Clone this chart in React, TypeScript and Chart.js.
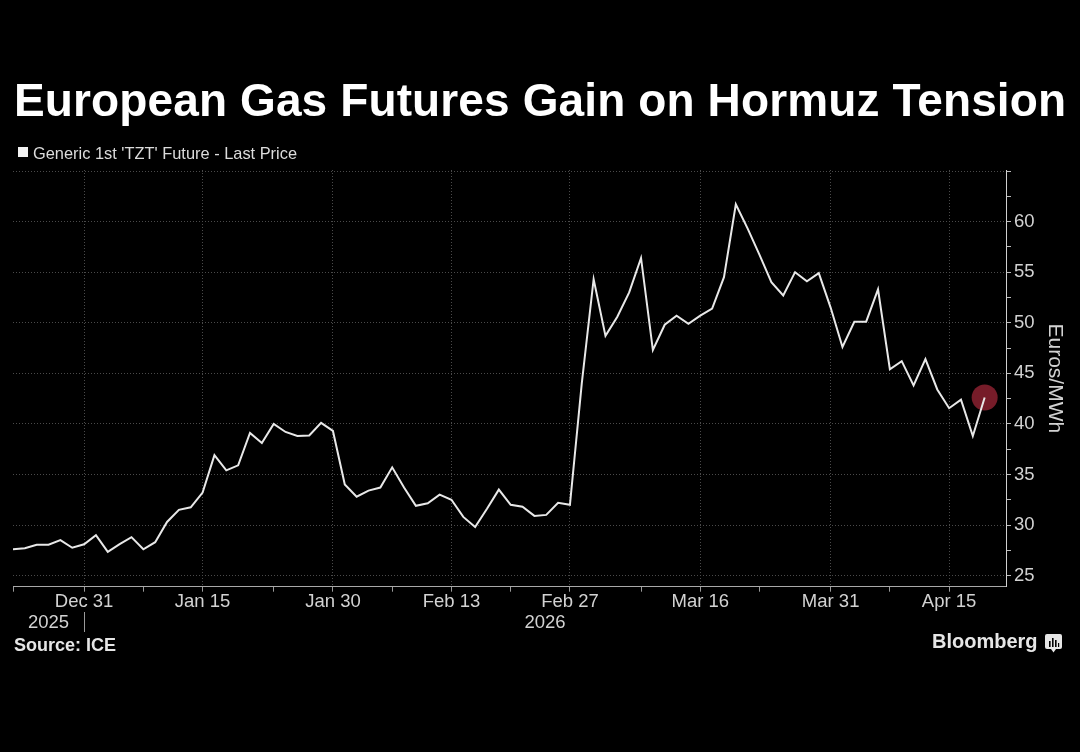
import React, { useEffect, useRef } from 'react';
import { Chart, registerables } from 'chart.js';

Chart.register(...registerables);

// Generic 1st 'TZT' Future - Last Price (EUR/MWh), one value per trading day
const prices = [
  27.6, 27.7, 28.05, 28.05, 28.5, 27.75, 28.1, 29.0, 27.35, 28.1,
  28.8, 27.6, 28.3, 30.3, 31.5, 31.75, 33.2, 36.9, 35.4, 35.9,
  39.1, 38.1, 40.0, 39.2, 38.8, 38.85, 40.1, 39.3, 34.0, 32.8,
  33.4, 33.7, 35.7, 33.7, 31.9, 32.15, 33.0, 32.5, 30.8, 29.8,
  31.6, 33.5, 32.0, 31.8, 30.9, 31.0, 32.2, 32.0, 44.0, 54.3,
  48.7, 50.6, 53.0, 56.4, 47.3, 49.8, 50.7, 49.9, 50.7, 51.4,
  54.5, 61.7, 59.3, 56.7, 54.0, 52.7, 55.0, 54.1, 54.9, 51.5,
  47.6, 50.1, 50.1, 53.3, 45.4, 46.2, 43.8, 46.4, 43.4, 41.55,
  42.4, 38.8, 42.6,
];

// x-axis: trading-day index of labelled ticks
const tickIndex = [6, 16, 27, 37, 47, 58, 69, 79];
const tickLabels = ['Dec 31', 'Jan 15', 'Jan 30', 'Feb 13', 'Feb 27', 'Mar 16', 'Mar 31', 'Apr 15'];
const minorTickIndex = [0, 11, 22, 32, 42, 53, 63, 74];
const yearLabels = ['2025', '2026'];
const yearBoundaryIndex = 6;

// y-axis
const yLabelValues = [25, 30, 35, 40, 45, 50, 55, 60];
const yGridValues = [25, 30, 35, 40, 45, 50, 55, 60, 65];
const yTickValues = [25, 27.5, 30, 32.5, 35, 37.5, 40, 42.5, 45, 47.5, 50, 52.5, 55, 57.5, 60, 62.5, 65];

const FONT = "'Liberation Sans', Arial, sans-serif";
const GRID = '#4a4a4a';
const AXIS_TEXT = '#d2d2d2';

const yearPlugin = {
  id: 'yearLabels',
  afterDraw(chart: any) {
    const { ctx } = chart;
    const xs = chart.scales.x;
    const p0 = xs.getPixelForValue(0);
    const pb = xs.getPixelForValue(yearBoundaryIndex);
    const pe = xs.right;
    ctx.save();
    ctx.fillStyle = AXIS_TEXT;
    ctx.font = `18.5px ${FONT}`;
    ctx.textAlign = 'center';
    ctx.textBaseline = 'alphabetic';
    ctx.fillText(yearLabels[0], (p0 + pb) / 2, 628);
    ctx.fillText(yearLabels[1], (pb + pe) / 2, 628);
    ctx.strokeStyle = '#9a9a9a';
    ctx.lineWidth = 1;
    ctx.beginPath();
    ctx.moveTo(Math.round(pb) + 0.5, 612);
    ctx.lineTo(Math.round(pb) + 0.5, 632);
    ctx.stroke();
    ctx.restore();
  },
};

export default function App() {
  const canvasRef = useRef<HTMLCanvasElement | null>(null);

  useEffect(() => {
    document.body.style.margin = '0';
    document.body.style.background = '#000';
    const canvas = canvasRef.current;
    if (!canvas) return;
    const lastIdx = prices.length - 1;
    const chart = new Chart(canvas, {
      type: 'line',
      data: {
        datasets: [
          {
            label: "Generic 1st 'TZT' Future - Last Price",
            data: prices.map((v, i) => ({ x: i, y: v })),
            borderColor: '#e8e8e8',
            borderWidth: 2,
            pointRadius: 0,
            tension: 0,
            order: 1,
          },
          {
            label: 'last',
            data: [{ x: lastIdx, y: prices[lastIdx] }],
            showLine: false,
            pointRadius: 13,
            pointBackgroundColor: 'rgba(128, 30, 44, 0.92)',
            pointBorderWidth: 0,
            order: 2,
          },
        ],
      },
      options: {
        responsive: false,
        animation: false,
        events: [],
        layout: { padding: { left: 10, top: 170, right: 0, bottom: 105.3 } },
        plugins: { legend: { display: false }, tooltip: { enabled: false } },
        scales: {
          x: {
            type: 'linear',
            position: 'bottom',
            min: 0,
            max: 83.8,
            afterBuildTicks: (s: any) => {
              s.ticks = [...minorTickIndex, ...tickIndex].sort((a, b) => a - b).map((v) => ({ value: v }));
            },
            afterFit: (s: any) => {
              s.height = 60;
            },
            grid: {
              color: (c: any) => (c.tick && tickIndex.includes(c.tick.value) ? GRID : 'rgba(0,0,0,0)'),
              tickColor: '#9a9a9a',
              tickLength: 5,
              lineWidth: 1,
            },
            border: { color: '#a8a8a8', width: 1, dash: [1, 2] },
            ticks: {
              color: AXIS_TEXT,
              font: { family: FONT, size: 18.5 },
              padding: -1,
              maxRotation: 0,
              autoSkip: false,
              callback: (v: any) => {
                const k = tickIndex.indexOf(v);
                return k >= 0 ? tickLabels[k] : '';
              },
            },
          },
          y: {
            type: 'linear',
            position: 'right',
            min: 23.9,
            max: 65.1,
            afterBuildTicks: (s: any) => {
              s.ticks = yTickValues.map((v) => ({ value: v }));
            },
            afterFit: (s: any) => {
              s.width = 74;
            },
            grid: {
              color: (c: any) => (c.tick && yGridValues.includes(c.tick.value) ? GRID : 'rgba(0,0,0,0)'),
              tickColor: '#bdbdbd',
              tickLength: 5,
              lineWidth: 1,
            },
            border: { color: '#cfcfcf', width: 1, dash: [1, 2] },
            ticks: {
              color: AXIS_TEXT,
              font: { family: FONT, size: 18.5 },
              padding: 3,
              autoSkip: false,
              callback: (v: any) => (yLabelValues.includes(v) ? String(v) : ''),
            },
            title: {
              display: true,
              text: 'Euros/MWh',
              color: AXIS_TEXT,
              font: { family: FONT, size: 21 },
              padding: { top: 13, bottom: 0 },
            },
          },
        },
      },
      plugins: [yearPlugin],
    });
    return () => chart.destroy();
  }, []);

  const abs = (left: number, top: number, size: number, extra: any = {}) => ({
    position: 'absolute' as const,
    left,
    top,
    fontSize: size,
    lineHeight: `${size}px`,
    fontFamily: FONT,
    whiteSpace: 'nowrap' as const,
    margin: 0,
    ...extra,
  });

  return (
    <div style={{ position: 'absolute', left: 0, top: 0, width: 1080, height: 752, background: '#000', overflow: 'hidden' }}>
      <canvas ref={canvasRef} width={1080} height={752} style={{ position: 'absolute', left: 0, top: 0, width: 1080, height: 752 }} />
      <div style={abs(14, 77, 46, { color: '#ffffff', fontWeight: 700, letterSpacing: '0.12px' })}>European Gas Futures Gain on Hormuz Tension</div>
      <div style={{ position: 'absolute', left: 18, top: 147, width: 10, height: 10, background: '#f2f2f2' }} />
      <div style={abs(33, 144.6, 16.4, { color: '#dcdcdc' })}>Generic 1st 'TZT' Future - Last Price</div>
      <div style={abs(14, 635.8, 18, { color: '#e6e6e6', fontWeight: 700 })}>Source: ICE</div>
      <div style={abs(932, 631, 20, { color: '#e6e6e6', fontWeight: 700 })}>Bloomberg</div>
      <svg width={20} height={22} style={{ position: 'absolute', left: 1044, top: 633 }} viewBox="0 0 20 22">
        <rect x={1} y={1} width={17} height={15} rx={2} fill="#e6e6e6" />
        <path d="M7 16 L9.5 19.5 L12 16 Z" fill="#e6e6e6" />
        <rect x={5} y={8} width={1.6} height={6} fill="#000" />
        <rect x={8} y={5} width={1.6} height={9} fill="#000" />
        <rect x={11} y={7} width={1.6} height={7} fill="#000" />
        <rect x={14} y={10} width={1.2} height={4} fill="#000" />
      </svg>
    </div>
  );
}
